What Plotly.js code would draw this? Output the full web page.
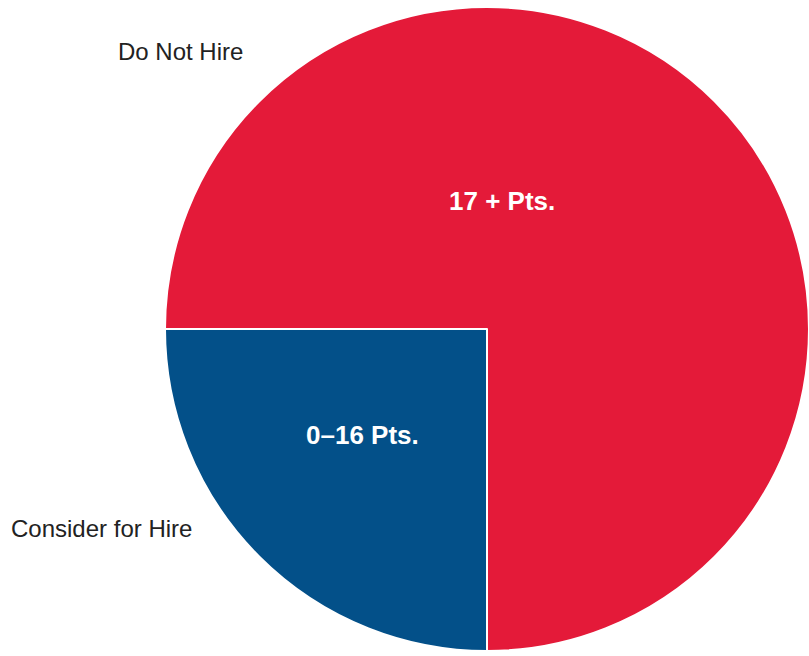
<!DOCTYPE html>
<html>
<head>
<meta charset="utf-8">
<script src="https://cdn.plot.ly/plotly-3.0.1.min.js"></script>
<style>html,body{margin:0;padding:0;background:#fff}#chart{width:809px;height:656px}</style>
</head>
<body>
<div id="chart"></div>
<script>
var categories = ["Consider for Hire", "Do Not Hire"];
var sliceText = ["0–16 Pts.", "17 + Pts."];
var values = [25, 75];
var colors = ["#035089", "#E41A39"];

var W = 809, H = 656;
function px(x) { return x / W; }
function py(y) { return 1 - y / H; }

var data = [{
  type: "pie",
  labels: categories,
  values: values,
  sort: false,
  direction: "clockwise",
  rotation: 180,
  textinfo: "none",
  hoverinfo: "label+percent",
  marker: { colors: colors, line: { color: "#ffffff", width: 2 } },
  domain: { x: [px(165), px(810)], y: [py(652), py(6)] },
  showlegend: false
}];

var annotations = [
  { text: sliceText[1], x: px(502), y: py(201), bold: true, color: "#ffffff" },
  { text: sliceText[0], x: px(362), y: py(435), bold: true, color: "#ffffff" },
  { text: categories[1], x: px(180), y: py(52), bold: false, color: "#222222" },
  { text: categories[0], x: px(101), y: py(528), bold: false, color: "#222222" }
].map(function (a) {
  return {
    xref: "paper", yref: "paper", x: a.x, y: a.y,
    xanchor: "center", yanchor: "middle", showarrow: false,
    text: a.bold ? "<b>" + a.text + "</b>" : a.text,
    font: { family: "Liberation Sans, Arial, sans-serif", size: a.bold ? 26 : 24, color: a.color }
  };
});

var layout = {
  width: W, height: H,
  margin: { l: 0, r: 0, t: 0, b: 0 },
  paper_bgcolor: "#ffffff",
  annotations: annotations
};

Plotly.newPlot("chart", data, layout, { displayModeBar: false, staticPlot: true });
</script>
</body>
</html>
